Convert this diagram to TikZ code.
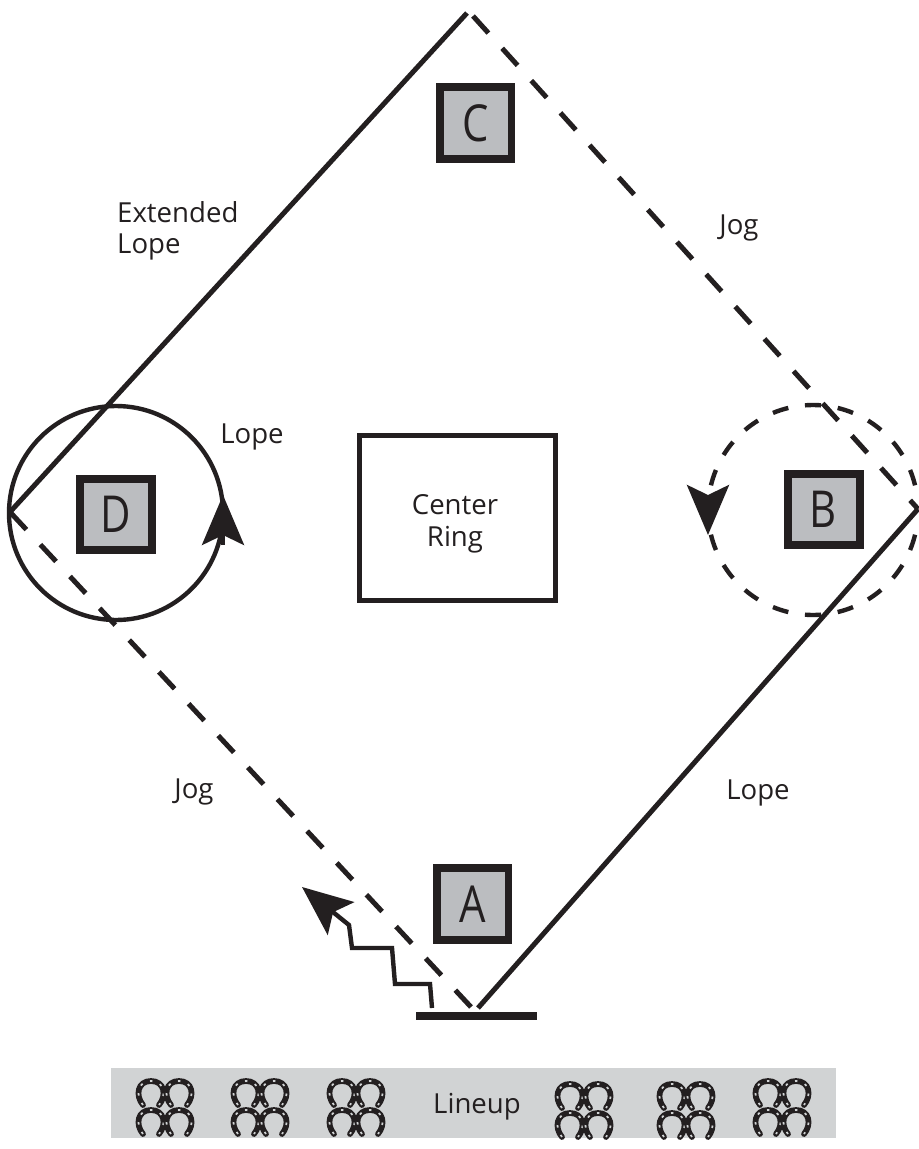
\documentclass[tikz,border=0pt]{standalone}
\usepackage{fontspec}
\setmainfont{Open Sans}
\newfontfamily\markerfont[FakeStretch=.82]{Open Sans}
\usetikzlibrary{arrows.meta,positioning,calc}
\definecolor{ink}{HTML}{231F20}
\definecolor{marker}{HTML}{BBBDC0}
\definecolor{band}{HTML}{D1D3D4}
\tikzset{>=Stealth,
pattern line/.style={draw=ink,line width=.1cm},
jog/.style={pattern line,dash pattern=on .46cm off .41cm},
circle line/.style={draw=ink,line width=.088cm},
big tip/.style={-{Stealth[length=1cm,width=.84cm,inset=.2cm]}},
markerbox/.style={draw=ink,fill=marker,line width=.16cm,minimum size=1.44cm,inner sep=0pt,font=\markerfont\fontsize{29}{30}\selectfont,text=ink},
smalllabel/.style={font=\fontsize{15.7}{18}\selectfont,text=ink,align=left},
shoe/.pic={
\draw[ink,line width=.115cm,line cap=round] (-8,12.5) .. controls (-16,3) and (-13.5,-11.5) .. (0,-11.5) .. controls (13.5,-11.5) and (16,3) .. (8,12.5);
\draw[band,line width=.035cm,dash pattern=on .05cm off .16cm] (-8,12.5) .. controls (-16,3) and (-13.5,-11.5) .. (0,-11.5) .. controls (13.5,-11.5) and (16,3) .. (8,12.5);}}
\begin{document}
\begin{tikzpicture}[x=.02cm,y=-.02cm]
\useasboundingbox (0,0) rectangle (919,1149);
\coordinate (top) at (467,13);
\coordinate (topjog) at (473,16);
\coordinate (left) at (10,512);
\coordinate (right) at (918,509);
\coordinate (startjog) at (471,1007);
\coordinate (startlope) at (478,1008);
\coordinate (barl) at (416,1016);
\coordinate (barr) at (537,1016);
\coordinate (circD) at (116,513);
\coordinate (circB) at (813,510);
% pattern
\draw[circle line] (circD) circle [radius=107];
\foreach \a in {18,36,...,162,198,216,...,342}{
\draw[circle line] ([shift={(\a-4.4:105)}]circB) arc [start angle=\a-4.4,end angle=\a+4.4,radius=105];}
\draw[pattern line] (left) -- (top);
\draw[jog] (topjog) -- (right);
\draw[pattern line] (right) -- (startlope);
\draw[jog] (startjog) -- (left);
\draw[draw=ink,line width=.16cm] (barl) -- (barr);
\coordinate (tipD) at (223,495);
\coordinate (tailD) at (223,545);
\coordinate (tipB) at (708,535);
\coordinate (tailB) at (708,496);
\draw[circle line,big tip] (tailD) -- (tipD);
\draw[circle line,big tip] (tailB) -- (tipB);
% walk
\coordinate (walk) at (432,1008);
\coordinate (tipA) at (302,887);
\draw[circle line,big tip] (walk) -- (430,984) -- (395,984) -- (392,948) -- (352,948) -- (349,925) -- (tipA);
% markers
\node[markerbox] (A) at (472.5,904) {A};
\node[markerbox] (B) at (823.5,509.5) {B};
\node[markerbox] (C) at (475.5,123) {C};
\node[markerbox] (D) at (116,514.5) {D};
\node[draw=ink,line width=.1cm,minimum width=3.92cm,minimum height=3.3cm] (ring) at (457.5,518) {};
% labels
\node[smalllabel,align=center] (ringlabel) at (455,524) {Center\\Ring};
\node[smalllabel,anchor=west] (extended) at (111,231) {Extended\\Lope};
\node[smalllabel] (jogtop) at (739,228) {Jog};
\node[smalllabel] (lopeD) at (252,437) {Lope};
\node[smalllabel] (jogleft) at (194,792) {Jog};
\node[smalllabel] (loperight) at (758,793) {Lope};
% lineup
\fill[band] (111,1068) rectangle (836,1138);
\node[smalllabel] (lineup) at (477,1107) {Lineup};
\foreach \x/\y in {165/1107,260/1107,356/1107,584/1110,686/1110,782/1107}{
\foreach \dx in {-14,14}{
\foreach \dy in {-14.5,14.5}{
\pic at (\x+\dx,\y+\dy) {shoe};}}}
\end{tikzpicture}
\end{document}
